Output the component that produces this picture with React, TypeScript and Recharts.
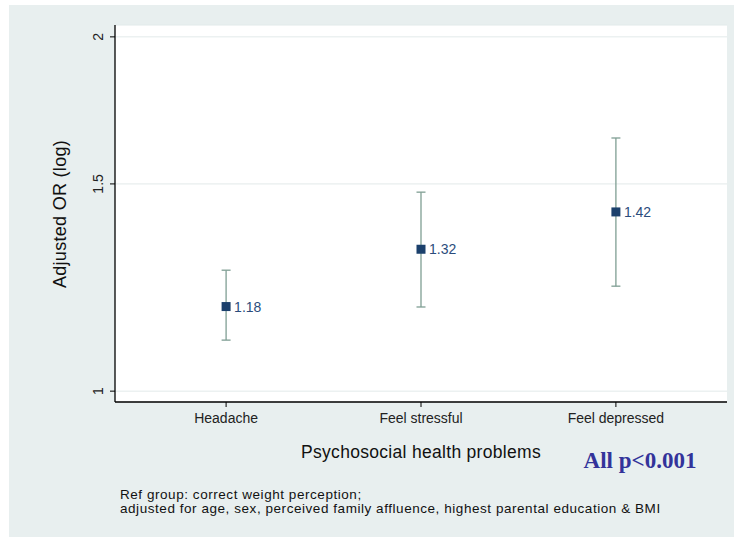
import React from "react"
import { ComposedChart, Scatter, ErrorBar, XAxis, YAxis, CartesianGrid } from "recharts"

// Adjusted odds ratios with 95% CI
const categories = ["Headache", "Feel stressful", "Feel depressed"]
const oddsRatios = [1.18, 1.32, 1.42]
const ciLower = [1.105, 1.179, 1.228]
const ciUpper = [1.267, 1.476, 1.641]
const yTicks = [1, 1.5, 2]

const data = categories.map((name, i) => ({
  pos: i + 1,
  name,
  or: oddsRatios[i],
  err: [oddsRatios[i] - ciLower[i], ciUpper[i] - oddsRatios[i]],
}))

const FONT = "'Liberation Sans', Arial, sans-serif"

const YTick = (props: any) => {
  const { x, y, payload } = props
  return (
    <text
      transform={`translate(${x - 5},${y}) rotate(-90)`}
      textAnchor="middle"
      fontSize={14}
      fontFamily={FONT}
      fill="#222"
    >
      {payload.value}
    </text>
  )
}

const Marker = (props: any) => {
  const { cx, cy, payload } = props
  return (
    <g>
      <rect x={cx - 4.5} y={cy - 4.5} width={9} height={9} fill="#1B406C" />
      <text x={cx + 8} y={cy + 5} fontSize={14} fontFamily={FONT} fill="#2B4C7C">
        {payload.or.toFixed(2)}
      </text>
    </g>
  )
}

export default function App() {
  return (
    <div style={{ position: "absolute", left: 0, top: 0, width: 734, height: 537 }}>
      <div style={{ position: "absolute", left: 9, top: 5, width: 725, height: 532, background: "#E8EFEF" }} />
      <div style={{ position: "absolute", left: 0, top: 0 }}>
        <ComposedChart width={734} height={537} data={data} margin={{ top: 25, right: 7, bottom: 105, left: 55 }}>
          <CartesianGrid vertical={false} stroke="#E2EAEA" fill="#FFFFFF" />
          <XAxis
            dataKey="pos"
            type="number"
            domain={[0.43, 3.57]}
            ticks={[1, 2, 3]}
            tickFormatter={(v: number) => categories[v - 1]}
            height={30}
            tickSize={5}
            tickMargin={6}
            axisLine={{ stroke: "#000", strokeWidth: 1.3 }}
            tickLine={{ stroke: "#000" }}
            tick={{ fontSize: 14, fontFamily: FONT, fill: "#222" }}
            allowDataOverflow
          />
          <YAxis
            dataKey="or"
            type="number"
            scale="log"
            domain={[0.979, 2.047]}
            ticks={yTicks}
            width={60}
            tickSize={5}
            axisLine={{ stroke: "#000", strokeWidth: 1.3 }}
            tickLine={{ stroke: "#000" }}
            tick={<YTick />}
            allowDataOverflow
          />
          <Scatter dataKey="or" shape={<Marker />} isAnimationActive={false}>
            <ErrorBar dataKey="err" direction="y" width={4.5} stroke="#7F9E93" strokeWidth={1.3} />
          </Scatter>
        </ComposedChart>
      </div>
      <div
        style={{
          position: "absolute",
          left: 60,
          top: 214,
          transform: "translate(-50%, -50%) rotate(-90deg)",
          whiteSpace: "nowrap",
          fontFamily: FONT,
          fontSize: 18,
          letterSpacing: 0.3,
          color: "#111",
        }}
      >
        Adjusted OR (log)
      </div>
      <div
        style={{
          position: "absolute",
          left: 421,
          top: 452,
          transform: "translate(-50%, -50%)",
          whiteSpace: "nowrap",
          fontFamily: FONT,
          fontSize: 17.5,
          letterSpacing: 0.3,
          color: "#111",
        }}
      >
        Psychosocial health problems
      </div>
      <div
        style={{
          position: "absolute",
          left: 640,
          top: 461,
          transform: "translate(-50%, -50%)",
          whiteSpace: "nowrap",
          fontFamily: "'Liberation Serif', 'Times New Roman', serif",
          fontWeight: "bold",
          fontSize: 23,
          color: "#33339A",
        }}
      >
        All p&lt;0.001
      </div>
      <div
        style={{
          position: "absolute",
          left: 120,
          top: 488,
          fontFamily: FONT,
          fontSize: 13.5,
          lineHeight: "14px",
          letterSpacing: 0.55,
          color: "#111",
          whiteSpace: "nowrap",
        }}
      >
        Ref group: correct weight perception;
        <br />
        adjusted for age, sex, perceived family affluence, highest parental education &amp; BMI
      </div>
    </div>
  )
}
